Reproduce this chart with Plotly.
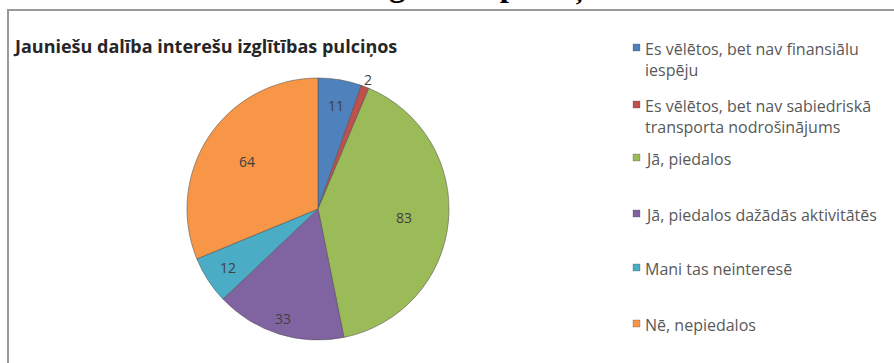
import math
import plotly.graph_objects as go

W, H = 894, 363

# Survey answers and counts
labels = [
    "Es vēlētos, bet nav finansiālu<br>iespēju",
    "Es vēlētos, bet nav sabiedriskā<br>transporta nodrošinājums",
    "Jā, piedalos",
    "Jā, piedalos dažādās aktivitātēs",
    "Mani tas neinteresē",
    "Nē, nepiedalos",
]
values = [11, 2, 83, 33, 12, 64]
colors = ["#4F81BD", "#C0504D", "#9BBB59", "#8064A2", "#4BACC6", "#F79646"]

chart_title = "Jauniešu dalība interešu izglītības pulciņos"
page_heading = "Dalība interešu izglītības pulciņos"

# radial placement of each data label, as a fraction of the pie radius
label_radius = [0.80, 1.06, 0.66, 0.88, 0.82, 0.65]


def px_x(x):
    return x / W


def px_y(y):
    return 1 - y / H


cx, cy, r = 318, 209, 131

fig = go.Figure()
fig.add_trace(go.Pie(
    values=values,
    labels=labels,
    sort=False,
    direction="clockwise",
    rotation=0,
    marker=dict(colors=colors, line=dict(color="rgba(80,80,80,0.55)", width=1)),
    textinfo="none",
    showlegend=False,
    hoverinfo="label+value",
    domain=dict(x=[px_x(cx - r), px_x(cx + r)], y=[px_y(cy + r), px_y(cy - r)]),
))

annotations = []
shapes = []

# Data labels at the middle angle of each slice (clockwise from 12 o'clock)
total = sum(values)
cum = 0
for v, frac in zip(values, label_radius):
    mid = (cum + v / 2) / total * 2 * math.pi
    cum += v
    lx = cx + frac * r * math.sin(mid)
    ly = cy - frac * r * math.cos(mid)
    annotations.append(dict(text=str(v), xref="paper", yref="paper",
                            x=px_x(lx), y=px_y(ly), xanchor="center", yanchor="middle",
                            showarrow=False,
                            font=dict(family="Open Sans, sans-serif", size=14, color="#404040")))

# Frame of the chart area
shapes.append(dict(type="rect", xref="paper", yref="paper",
                   x0=px_x(8), x1=px_x(W + 5), y0=px_y(H + 5), y1=px_y(10),
                   line=dict(color="#9a9a9a", width=2), fillcolor="rgba(0,0,0,0)"))

# Page heading above the chart (mostly outside the visible area)
annotations.append(dict(text="<b>" + page_heading + "</b>", xref="paper", yref="paper",
                        x=px_x(140), y=px_y(-14), xanchor="left", yanchor="middle",
                        showarrow=False,
                        font=dict(family="Liberation Serif, serif", size=33, color="#000000")))

# Chart title
annotations.append(dict(text="<b>" + chart_title + "</b>", xref="paper", yref="paper",
                        x=px_x(11), y=px_y(46), xanchor="left", yanchor="middle",
                        showarrow=False,
                        font=dict(family="Open Sans, sans-serif", size=18, color="#262626")))

# Legend built from the series lists
legend_y = [47, 104, 157, 213, 267, 323]
for lab, col, ly in zip(labels, colors, legend_y):
    shapes.append(dict(type="rect", xref="paper", yref="paper",
                       x0=px_x(633), x1=px_x(640), y0=px_y(ly + 4), y1=px_y(ly - 3),
                       fillcolor=col, line=dict(color="rgba(60,60,60,0.5)", width=0.5)))
    annotations.append(dict(text=lab, xref="paper", yref="paper",
                            x=px_x(643), y=px_y(ly - 11), xanchor="left", yanchor="top",
                            align="left", showarrow=False,
                            font=dict(family="Open Sans, sans-serif", size=16, color="#595959")))

fig.update_layout(
    width=W, height=H,
    margin=dict(l=0, r=0, t=0, b=0),
    paper_bgcolor="white",
    plot_bgcolor="white",
    shapes=shapes,
    annotations=annotations,
)

fig.write_html("out.html")
